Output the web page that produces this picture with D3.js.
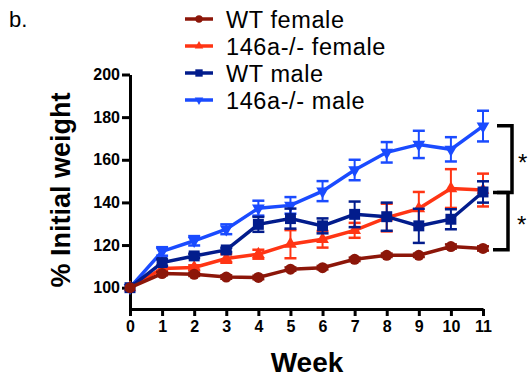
<!DOCTYPE html>
<html>
<head>
	<script type="text/javascript" src="https://cdn.jsdelivr.net/npm/d3@7"></script>
	<style>
		body { margin: 0; background: #fff; }
		text { font-family: "Liberation Sans", Arial, sans-serif; }
	</style>
</head>
<body>
	<script type="text/javascript">

		// data
		var weeks = [0, 1, 2, 3, 4, 5, 6, 7, 8, 9, 10, 11];
		var wtFemale    = [100, 106.6, 106.3, 105, 104.8, 108.7, 109.4, 113.3, 115.2, 115.2, 119.3, 118.4];
		var wtFemaleErr = [0, 0.8, 0.8, 0.8, 0.8, 0.8, 0.8, 0.8, 0.8, 0.8, 1, 1];
		var koFemale    = [100, 109, 109.5, 113.7, 115.7, 120.4, 122.7, 126.9, 132.9, 137.1, 146.5, 145.8];
		var koFemaleErr = [0, 1, 1, 2, 2.1, 6.6, 3.9, 3.5, 6.5, 7.8, 9.1, 7.7];
		var wtMale      = [100, 111.8, 114.9, 117.7, 129.7, 132.4, 129, 134.4, 133.3, 129, 132.1, 144.9];
		var wtMaleErr   = [0, 1.5, 1, 1, 3.5, 4.7, 3.5, 6, 6.6, 8, 4.7, 5];
		var koMale      = [100, 117, 122, 127.4, 137.3, 138.6, 145.3, 155.2, 163.5, 167.2, 164.9, 175.8];
		var koMaleErr   = [0, 2, 2.2, 2.3, 3.5, 3.9, 4.7, 4.8, 4.8, 6.4, 5.7, 7.2];
		var yTicks = [100, 120, 140, 160, 180, 200];
		// significance brackets (value ranges)
		var brackets = [[176, 144.6], [144.6, 117.8]];

		var series = [
			{name: 'WT female', vals: wtFemale, err: wtFemaleErr, color: '#8c1609', sym: d3.symbolCircle, size: 95, rot: 0},
			{name: '146a-/- female', vals: koFemale, err: koFemaleErr, color: '#ff3514', sym: d3.symbolTriangle, size: 70, rot: 0},
			{name: 'WT male', vals: wtMale, err: wtMaleErr, color: '#021c8c', sym: d3.symbolSquare, size: 120, rot: 0},
			{name: '146a-/- male', vals: koMale, err: koMaleErr, color: '#1a4bff', sym: d3.symbolTriangle, size: 70, rot: 180}
		];

		var W = 528, H = 377;
		var svg = d3.select('body').append('svg')
			.attr('width', W).attr('height', H);

		var xScale = d3.scaleLinear().domain([0, 11]).range([130, 483]);
		var yScale = d3.scaleLinear().domain([90, 200]).range([309, 74.5]);

		// axes
		var xAxis = svg.append('g')
			.attr('transform', 'translate(0,309)')
			.call(d3.axisBottom(xScale).tickValues(weeks).tickSize(7).tickSizeOuter(0).tickPadding(5));
		var yAxis = svg.append('g')
			.attr('transform', 'translate(130,0)')
			.call(d3.axisLeft(yScale).tickValues(yTicks).tickSize(8).tickSizeOuter(0).tickPadding(2));

		[xAxis, yAxis].forEach(function(a) {
			a.select('.domain').attr('stroke', '#000').attr('stroke-width', 3);
			a.selectAll('.tick line').attr('stroke', '#000').attr('stroke-width', 3);
			a.selectAll('.tick text')
				.attr('fill', '#000')
				.style('font-size', '16px')
				.style('font-weight', 'bold');
		});

		// lines, error bars, markers
		var line = d3.line()
			.x(function(d, i) { return xScale(weeks[i]); })
			.y(function(d) { return yScale(d); });

		var drawOrder = [3, 1, 2, 0];
		drawOrder.forEach(function(k) {
			var s = series[k];
			var g = svg.append('g');
			g.append('path')
				.attr('d', line(s.vals))
				.attr('fill', 'none')
				.attr('stroke', s.color)
				.attr('stroke-width', 3.5);

			weeks.forEach(function(w, i) {
				if (s.err[i] <= 0) return;
				var cx = xScale(w);
				var y1 = yScale(s.vals[i] + s.err[i]);
				var y2 = yScale(s.vals[i] - s.err[i]);
				g.append('line').attr('x1', cx).attr('x2', cx).attr('y1', y1).attr('y2', y2)
					.attr('stroke', s.color).attr('stroke-width', 2);
				[y1, y2].forEach(function(yy) {
					g.append('line').attr('x1', cx - 6).attr('x2', cx + 6).attr('y1', yy).attr('y2', yy)
						.attr('stroke', s.color).attr('stroke-width', 2.5);
				});
			});

			g.selectAll('path.pt')
				.data(s.vals)
				.enter()
				.append('path')
				.attr('class', 'pt')
				.attr('d', d3.symbol().type(s.sym).size(s.size))
				.attr('transform', function(d, i) {
					return 'translate(' + xScale(weeks[i]) + ',' + yScale(d) + ') rotate(' + s.rot + ')';
				})
				.attr('fill', s.color);
		});

		// brackets
		var bx = [[497, 512], [493, 508]];
		brackets.forEach(function(b, i) {
			var yt = yScale(b[0]), yb = yScale(b[1]);
			svg.append('path')
				.attr('d', 'M' + bx[i][0] + ',' + yt + 'H' + bx[i][1] + 'V' + yb + 'H' + bx[i][0])
				.attr('fill', 'none')
				.attr('stroke', '#000')
				.attr('stroke-width', 3.5);
			svg.append('text')
				.attr('x', 518 - i)
				.attr('y', (yt + yb) / 2 + 12)
				.style('font-size', '24px')
				.text('*');
		});

		// legend
		var legend = svg.append('g');
		series.forEach(function(s, i) {
			var ly = 19 + i * 27;
			legend.append('line').attr('x1', 185).attr('x2', 213).attr('y1', ly).attr('y2', ly)
				.attr('stroke', s.color).attr('stroke-width', 3.5);
			legend.append('path')
				.attr('d', d3.symbol().type(s.sym).size(s.size * 0.45))
				.attr('transform', 'translate(199,' + ly + ') rotate(' + s.rot + ')')
				.attr('fill', s.color);
			legend.append('text')
				.attr('x', 226)
				.attr('y', ly + 8.5)
				.style('font-size', '23.5px')
				.style('letter-spacing', '0.6px')
				.text(s.name);
		});

		// titles
		svg.append('text')
			.attr('x', 9).attr('y', 27)
			.style('font-size', '22px')
			.text('b.');

		svg.append('text')
			.attr('transform', 'translate(70,190) rotate(-90)')
			.attr('text-anchor', 'middle')
			.style('font-size', '27px')
			.style('font-weight', 'bold')
			.text('% Initial weight');

		svg.append('text')
			.attr('x', 307).attr('y', 372)
			.attr('text-anchor', 'middle')
			.style('font-size', '28px')
			.style('font-weight', 'bold')
			.text('Week');

	</script>
</body>
</html>
